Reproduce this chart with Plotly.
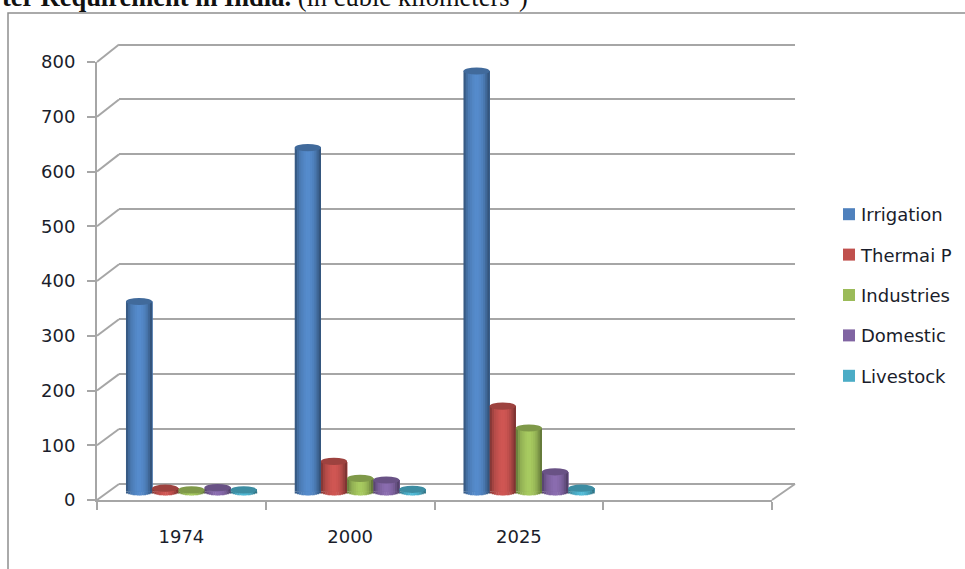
import math
import plotly.graph_objects as go

# Annual water requirement by sector, in cubic kilometres
CATEGORIES = ["1974", "2000", "2025"]
IRRIGATION = [347, 628, 768]
THERMAL = [6, 55, 156]
INDUSTRIES = [3, 24, 116]
DOMESTIC = [7, 21, 36]
LIVESTOCK = [3, 4, 6]

SERIES_NAMES = ["Irrigation", "Thermai P", "Industries", "Domestic", "Livestock"]
SERIES_VALUES = [IRRIGATION, THERMAL, INDUSTRIES, DOMESTIC, LIVESTOCK]
SERIES_COLORS = ["#4F81BD", "#C0504D", "#9BBB59", "#8064A2", "#4BACC6"]
Y_TICKS = [0, 100, 200, 300, 400, 500, 600, 700, 800]

W, H = 965, 569
FRONT = dict(left=97, right=772, bottom=500, top=62)
BACK = dict(left=119, right=795, bottom=484, top=44.5)
MID_X, MID_Y = 10, 8.5
GRID = "#A6A6A6"
TEXT = "#1A1D2B"
FONT = "DejaVu Sans"
FONT_SIZE = 18

# Horizontal shading across one cylinder, left edge to right edge
SHADE = [0.70, 0.85, 0.95, 1.00, 1.05, 1.08, 1.08, 1.05, 1.00, 0.92, 0.80, 0.66]
BAR_WIDTH = 0.155
FOOT_PX = 4
LID_PX = 3.6
Y_PAD = 20  # extra axis units so lines and feet at the range ends stay visible
UNITS_PER_PX = 800 / (FRONT["bottom"] - FRONT["top"])


def tint(color, k):
    rgb = [int(color[i:i + 2], 16) for i in (1, 3, 5)]
    return "rgb({},{},{})".format(*[min(255, round(c * k)) for c in rgb])


def plane_x(plane, shift=0):
    return [(plane["left"] + shift) / W, (plane["right"] + shift) / W]


def plane_y(plane, shift=0, pad=0):
    pad_px = pad * (plane["bottom"] - plane["top"]) / 800
    return [1 - (plane["bottom"] - shift + pad_px) / H, 1 - (plane["top"] - shift - pad_px) / H]


def level_px(plane, v):
    return plane["bottom"] - v / 800 * (plane["bottom"] - plane["top"])


def connector(x0_px, y0_px, x1_px, y1_px):
    # Receding edge from a front-plane point to the back wall
    return dict(type="line", xref="paper", yref="paper",
                x0=x0_px / W, x1=x1_px / W, y0=1 - y0_px / H, y1=1 - y1_px / H,
                line=dict(color=GRID, width=2))


fig = go.Figure()

# Placeholder traces so the front and back axes are drawn
fig.add_trace(go.Scatter(x=[0], y=[None], xaxis="x", yaxis="y", showlegend=False, hoverinfo="skip"))
fig.add_trace(go.Scatter(x=[0, 1], y=[None, None], xaxis="x2", yaxis="y2",
                         showlegend=False, hoverinfo="skip"))
fig.add_trace(go.Scatter(x=[0, 1, 2], y=[None] * 3, xaxis="x4", yaxis="y",
                         showlegend=False, hoverinfo="skip"))

shapes = []
n = len(SHADE)
positions = list(range(len(CATEGORIES)))
for s, (name, values, color) in enumerate(zip(SERIES_NAMES, SERIES_VALUES, SERIES_COLORS)):
    left = (s - 2.5) * BAR_WIDTH
    strip = BAR_WIDTH / n
    for k, shade in enumerate(SHADE):
        # Cylinder body: each strip runs to the right edge so no seams show
        fig.add_trace(go.Bar(
            x=positions, y=values, xaxis="x3", yaxis="y3",
            width=(n - k) * strip, offset=left + k * strip,
            marker=dict(color=tint(color, shade), line_width=0),
            showlegend=False, legendgroup=name, hoverinfo="skip",
        ))
    for k, shade in enumerate(SHADE):
        # Rounded foot under the zero line
        t = (k + 0.5) / n * 2 - 1
        drop = FOOT_PX * math.sqrt(1 - t * t) * UNITS_PER_PX
        fig.add_trace(go.Bar(
            x=positions, y=[drop] * 3, base=[-drop] * 3, xaxis="x3", yaxis="y3",
            width=strip * 1.2, offset=left + k * strip,
            marker=dict(color=tint(color, shade), line_width=0),
            showlegend=False, legendgroup=name, hoverinfo="skip",
        ))
    # Legend swatch in the flat series colour
    fig.add_trace(go.Bar(x=[None], y=[None], name=name, legendgroup=name, xaxis="x3", yaxis="y3",
                         marker=dict(color=color, line_width=0)))
    for c, v in enumerate(values):
        # Darker lid on top of the cylinder
        shapes.append(dict(type="circle", layer="above", xref="x3", yref="y3", ysizemode="pixel",
                           yanchor=v, x0=c + left, x1=c + left + BAR_WIDTH, y0=-LID_PX, y1=LID_PX,
                           fillcolor=tint(color, 0.82), line_width=0))

# Side wall and floor edges
for v in Y_TICKS:
    shapes.append(connector(FRONT["left"], level_px(FRONT, v), BACK["left"], level_px(BACK, v)))
shapes.append(connector(FRONT["right"], FRONT["bottom"], BACK["right"], BACK["bottom"]))

# Outer chart frame, running off the right and bottom of the page
shapes.append(dict(type="rect", xref="paper", yref="paper", x0=8 / W, x1=1.05, y0=-0.05, y1=1 - 13 / H,
                   line=dict(color="#8F8F8F", width=1.5), fillcolor="rgba(0,0,0,0)", layer="below"))

axis_font = dict(family=FONT, size=FONT_SIZE, color=TEXT)

fig.update_layout(
    width=W, height=H, margin=dict(l=0, r=0, t=0, b=0, autoexpand=False),
    paper_bgcolor="white", plot_bgcolor="rgba(0,0,0,0)",
    barmode="overlay", shapes=shapes, autosize=False,
    font=dict(family=FONT, color=TEXT, size=FONT_SIZE),
    # Front axes carry the ticks and value labels
    xaxis=dict(domain=plane_x(FRONT), range=[-0.5, 3.5], tickvals=[-0.5, 0.5, 1.5, 2.5, 3.5],
               showticklabels=False, ticks="outside", ticklen=8, tickwidth=2, tickcolor=GRID,
               showgrid=False, showline=True, linecolor=GRID, linewidth=2, zeroline=False),
    yaxis=dict(domain=plane_y(FRONT), range=[0, 800], tickvals=Y_TICKS, ticks="outside",
               ticklen=8, tickwidth=2, tickcolor=GRID, showgrid=False, showline=True,
               linecolor=GRID, linewidth=2, zeroline=False, ticklabelstandoff=8,
               tickfont=axis_font),
    # Back wall holds the gridlines
    xaxis2=dict(domain=plane_x(BACK), anchor="y2", range=[0, 1], visible=False),
    yaxis2=dict(domain=plane_y(BACK, pad=Y_PAD), anchor="x2", range=[-Y_PAD, 800 + Y_PAD],
                tickvals=Y_TICKS, showticklabels=False, showgrid=True, gridcolor=GRID, gridwidth=2,
                zeroline=False, showline=False, ticks=""),
    # Mid-depth plane holds the cylinders
    xaxis3=dict(domain=plane_x(FRONT, MID_X), anchor="y3", range=[-0.5, 3.5], visible=False),
    yaxis3=dict(domain=plane_y(FRONT, MID_Y, Y_PAD), anchor="x3", range=[-Y_PAD, 800 + Y_PAD],
                visible=False),
    # Year labels sit centred between the floor ticks
    xaxis4=dict(domain=plane_x(FRONT), anchor="y", overlaying="x", side="bottom", range=[-0.5, 3.5],
                tickvals=positions, ticktext=CATEGORIES, ticks="", showgrid=False, zeroline=False,
                showline=False, ticklabelstandoff=24, tickfont=axis_font),
    legend=dict(x=821 / W, y=1 - 295 / H, yanchor="middle", xanchor="left", tracegroupgap=14,
                bgcolor="rgba(0,0,0,0)", font=axis_font,
                itemclick=False, itemdoubleclick=False),
    annotations=[dict(
        xref="paper", yref="paper", x=0, y=1 - 7 / H, xanchor="left", yanchor="bottom", yshift=-7,
        showarrow=False, align="left",
        text="<b>ter Requirement in India.</b> (in cubic kilometers<sup>3</sup>)",
        font=dict(family="Liberation Serif", size=26.5, color="#111111"),
    )],
)

# Tuck the legend swatches closer to their labels
SWATCH_SHIFT = "document.querySelectorAll('.legendsymbols').forEach(g => g.setAttribute('transform', 'translate(8,0)'));"

fig.write_html("out.html", config=dict(displayModeBar=False), post_script=SWATCH_SHIFT)
